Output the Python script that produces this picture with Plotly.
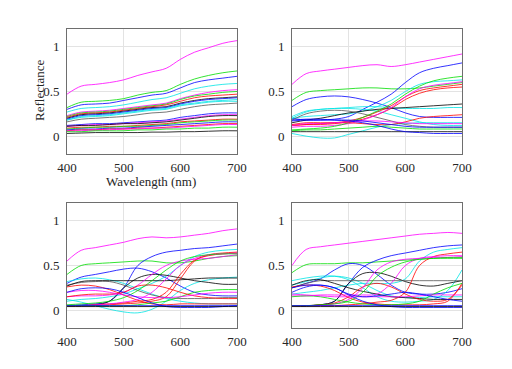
import plotly.graph_objects as go

wavelengths = [400, 425, 450, 475, 500, 525, 550, 575, 600, 625, 650, 675, 700]
x_ticks = [400, 500, 600, 700]
y_ticks = [0, 0.5, 1]
y_tick_labels = ["0", "0.5", "1"]
x_title = "Wavelength (nm)"
y_title = "Reflectance"

C = {"b": "#0000ff", "g": "#00dd00", "r": "#ff0000", "c": "#00e5e5", "m": "#ff00ff", "k": "#000000", "d": "#555555"}

# Panel 1 (top-left)
p1_colors = ["m", "g", "b", "c", "m", "g", "r", "k", "b", "c", "c", "d",
             "b", "m", "k", "r", "g", "b", "r", "m", "g", "k"]
p1_values = [
    [0.47, 0.56, 0.58, 0.60, 0.63, 0.68, 0.72, 0.76, 0.86, 0.94, 0.99, 1.04, 1.07],
    [0.32, 0.38, 0.39, 0.40, 0.42, 0.46, 0.49, 0.51, 0.58, 0.64, 0.68, 0.71, 0.73],
    [0.30, 0.35, 0.36, 0.37, 0.40, 0.43, 0.46, 0.48, 0.54, 0.60, 0.63, 0.65, 0.67],
    [0.27, 0.31, 0.32, 0.33, 0.35, 0.38, 0.41, 0.43, 0.48, 0.53, 0.56, 0.58, 0.59],
    [0.23, 0.27, 0.28, 0.29, 0.31, 0.33, 0.35, 0.37, 0.42, 0.46, 0.49, 0.51, 0.52],
    [0.22, 0.26, 0.27, 0.28, 0.30, 0.32, 0.34, 0.36, 0.41, 0.45, 0.47, 0.49, 0.50],
    [0.21, 0.25, 0.26, 0.27, 0.29, 0.31, 0.33, 0.35, 0.39, 0.43, 0.45, 0.46, 0.47],
    [0.20, 0.24, 0.25, 0.26, 0.28, 0.30, 0.32, 0.33, 0.37, 0.40, 0.42, 0.43, 0.44],
    [0.19, 0.23, 0.24, 0.25, 0.27, 0.29, 0.31, 0.32, 0.36, 0.39, 0.41, 0.42, 0.43],
    [0.18, 0.22, 0.23, 0.24, 0.26, 0.28, 0.30, 0.31, 0.35, 0.37, 0.39, 0.40, 0.41],
    [0.18, 0.21, 0.22, 0.23, 0.25, 0.27, 0.29, 0.30, 0.34, 0.36, 0.38, 0.39, 0.39],
    [0.16, 0.19, 0.20, 0.21, 0.22, 0.24, 0.26, 0.27, 0.30, 0.33, 0.35, 0.36, 0.37],
    [0.12, 0.13, 0.14, 0.14, 0.15, 0.16, 0.17, 0.18, 0.21, 0.23, 0.25, 0.26, 0.26],
    [0.11, 0.12, 0.13, 0.13, 0.14, 0.15, 0.16, 0.17, 0.19, 0.21, 0.23, 0.24, 0.24],
    [0.11, 0.12, 0.12, 0.13, 0.14, 0.14, 0.15, 0.16, 0.18, 0.20, 0.22, 0.23, 0.23],
    [0.09, 0.10, 0.10, 0.11, 0.11, 0.12, 0.13, 0.14, 0.16, 0.17, 0.18, 0.19, 0.19],
    [0.08, 0.09, 0.10, 0.10, 0.11, 0.11, 0.12, 0.13, 0.15, 0.16, 0.17, 0.18, 0.18],
    [0.07, 0.08, 0.08, 0.09, 0.09, 0.10, 0.11, 0.12, 0.13, 0.14, 0.15, 0.16, 0.16],
    [0.06, 0.07, 0.07, 0.08, 0.08, 0.09, 0.09, 0.10, 0.11, 0.12, 0.13, 0.14, 0.14],
    [0.06, 0.06, 0.07, 0.07, 0.08, 0.08, 0.09, 0.09, 0.10, 0.11, 0.12, 0.13, 0.13],
    [0.05, 0.05, 0.06, 0.06, 0.06, 0.07, 0.07, 0.08, 0.08, 0.09, 0.09, 0.10, 0.10],
    [0.03, 0.035, 0.04, 0.04, 0.04, 0.04, 0.045, 0.045, 0.05, 0.05, 0.055, 0.06, 0.06],
]

# Panel 2 (top-right)
p2_colors = ["m", "g", "b", "b", "c", "c", "c", "c", "k", "d", "r", "r",
             "m", "g", "r", "g", "k", "m", "b", "b"]
p2_values = [
    [0.58, 0.70, 0.73, 0.75, 0.77, 0.79, 0.80, 0.78, 0.80, 0.83, 0.86, 0.89, 0.92],
    [0.40, 0.49, 0.51, 0.52, 0.53, 0.54, 0.54, 0.53, 0.53, 0.54, 0.56, 0.58, 0.60],
    [0.33, 0.41, 0.44, 0.45, 0.44, 0.41, 0.37, 0.32, 0.26, 0.22, 0.21, 0.21, 0.21],
    [0.20, 0.18, 0.18, 0.19, 0.22, 0.30, 0.38, 0.47, 0.60, 0.71, 0.76, 0.79, 0.82],
    [0.03, 0.00, -0.02, -0.02, 0.02, 0.06, 0.10, 0.13, 0.14, 0.15, 0.15, 0.15, 0.15],
    [0.22, 0.28, 0.30, 0.31, 0.31, 0.30, 0.28, 0.24, 0.20, 0.16, 0.13, 0.12, 0.12],
    [0.20, 0.22, 0.23, 0.24, 0.25, 0.28, 0.33, 0.40, 0.50, 0.58, 0.61, 0.62, 0.63],
    [0.20, 0.27, 0.30, 0.31, 0.32, 0.33, 0.33, 0.32, 0.31, 0.31, 0.31, 0.32, 0.32],
    [0.15, 0.18, 0.20, 0.23, 0.26, 0.28, 0.30, 0.31, 0.32, 0.33, 0.34, 0.35, 0.36],
    [0.18, 0.25, 0.28, 0.29, 0.28, 0.25, 0.21, 0.17, 0.13, 0.11, 0.10, 0.10, 0.10],
    [0.12, 0.13, 0.14, 0.15, 0.17, 0.21, 0.27, 0.34, 0.44, 0.51, 0.54, 0.56, 0.58],
    [0.12, 0.13, 0.13, 0.14, 0.16, 0.19, 0.24, 0.31, 0.41, 0.48, 0.52, 0.54, 0.55],
    [0.10, 0.11, 0.11, 0.12, 0.14, 0.18, 0.24, 0.32, 0.44, 0.53, 0.57, 0.59, 0.61],
    [0.07, 0.08, 0.09, 0.11, 0.15, 0.21, 0.28, 0.36, 0.47, 0.56, 0.62, 0.65, 0.67],
    [0.13, 0.15, 0.15, 0.15, 0.15, 0.14, 0.13, 0.13, 0.16, 0.20, 0.22, 0.23, 0.24],
    [0.06, 0.07, 0.07, 0.08, 0.09, 0.10, 0.11, 0.10, 0.09, 0.08, 0.08, 0.08, 0.08],
    [0.05, 0.05, 0.05, 0.05, 0.05, 0.05, 0.05, 0.05, 0.05, 0.05, 0.05, 0.05, 0.05],
    [0.12, 0.14, 0.14, 0.15, 0.16, 0.17, 0.17, 0.16, 0.15, 0.14, 0.14, 0.14, 0.14],
    [0.18, 0.19, 0.19, 0.18, 0.17, 0.15, 0.12, 0.08, 0.05, 0.04, 0.03, 0.03, 0.03],
    [0.17, 0.18, 0.18, 0.18, 0.18, 0.17, 0.15, 0.13, 0.11, 0.10, 0.10, 0.10, 0.10],
]

# Panel 3 (bottom-left)
p3_colors = ["m", "g", "b", "b", "c", "c", "c", "k", "d", "k", "r", "r",
             "r", "m", "m", "g", "g", "r", "m", "b", "b", "k"]
p3_values = [
    [0.55, 0.67, 0.70, 0.73, 0.76, 0.80, 0.82, 0.81, 0.82, 0.84, 0.86, 0.89, 0.91],
    [0.40, 0.50, 0.52, 0.53, 0.54, 0.55, 0.55, 0.53, 0.53, 0.55, 0.58, 0.60, 0.61],
    [0.30, 0.37, 0.40, 0.43, 0.46, 0.47, 0.43, 0.36, 0.27, 0.20, 0.17, 0.16, 0.16],
    [0.05, 0.06, 0.07, 0.10, 0.25, 0.50, 0.60, 0.65, 0.67, 0.69, 0.70, 0.72, 0.74],
    [0.32, 0.35, 0.36, 0.34, 0.30, 0.24, 0.18, 0.13, 0.10, 0.08, 0.07, 0.07, 0.07],
    [0.12, 0.09, 0.05, 0.01, -0.02, -0.03, 0.01, 0.10, 0.22, 0.30, 0.34, 0.36, 0.37],
    [0.10, 0.12, 0.13, 0.15, 0.18, 0.24, 0.30, 0.38, 0.50, 0.60, 0.65, 0.67, 0.68],
    [0.05, 0.05, 0.06, 0.10, 0.25, 0.36, 0.40, 0.39, 0.36, 0.33, 0.31, 0.29, 0.29],
    [0.28, 0.31, 0.32, 0.32, 0.28, 0.22, 0.17, 0.14, 0.13, 0.13, 0.13, 0.14, 0.14],
    [0.27, 0.32, 0.33, 0.33, 0.33, 0.33, 0.33, 0.33, 0.34, 0.35, 0.36, 0.36, 0.36],
    [0.26, 0.28, 0.27, 0.23, 0.17, 0.11, 0.07, 0.06, 0.07, 0.07, 0.07, 0.07, 0.07],
    [0.05, 0.05, 0.05, 0.06, 0.07, 0.08, 0.10, 0.15, 0.35, 0.55, 0.62, 0.64, 0.65],
    [0.05, 0.05, 0.06, 0.07, 0.08, 0.10, 0.12, 0.20, 0.40, 0.56, 0.61, 0.63, 0.64],
    [0.05, 0.05, 0.06, 0.07, 0.09, 0.12, 0.20, 0.35, 0.50, 0.58, 0.62, 0.63, 0.64],
    [0.15, 0.16, 0.16, 0.17, 0.20, 0.28, 0.40, 0.50, 0.55, 0.57, 0.58, 0.60, 0.62],
    [0.06, 0.07, 0.08, 0.10, 0.14, 0.22, 0.33, 0.45, 0.55, 0.60, 0.62, 0.63, 0.63],
    [0.05, 0.05, 0.05, 0.05, 0.05, 0.06, 0.08, 0.10, 0.15, 0.20, 0.22, 0.23, 0.23],
    [0.15, 0.17, 0.18, 0.18, 0.20, 0.27, 0.28, 0.25, 0.20, 0.16, 0.14, 0.13, 0.13],
    [0.20, 0.22, 0.22, 0.20, 0.17, 0.15, 0.14, 0.14, 0.15, 0.17, 0.19, 0.20, 0.20],
    [0.20, 0.24, 0.25, 0.24, 0.20, 0.14, 0.08, 0.04, 0.03, 0.03, 0.03, 0.04, 0.05],
    [0.05, 0.05, 0.05, 0.05, 0.05, 0.05, 0.05, 0.05, 0.05, 0.05, 0.05, 0.05, 0.05],
    [0.04, 0.04, 0.04, 0.04, 0.04, 0.04, 0.04, 0.04, 0.04, 0.04, 0.04, 0.04, 0.04],
]

# Panel 4 (bottom-right)
p4_colors = ["m", "g", "b", "b", "c", "c", "c", "k", "d", "k", "r", "r",
             "r", "m", "m", "g", "g", "m", "b", "b", "k", "b"]
p4_values = [
    [0.50, 0.68, 0.71, 0.73, 0.75, 0.77, 0.79, 0.81, 0.83, 0.85, 0.86, 0.87, 0.86],
    [0.42, 0.51, 0.52, 0.52, 0.53, 0.53, 0.54, 0.55, 0.56, 0.57, 0.58, 0.58, 0.58],
    [0.05, 0.05, 0.06, 0.10, 0.30, 0.48, 0.56, 0.61, 0.64, 0.67, 0.70, 0.72, 0.73],
    [0.25, 0.30, 0.35, 0.45, 0.52, 0.50, 0.40, 0.28, 0.20, 0.18, 0.18, 0.20, 0.24],
    [0.33, 0.36, 0.38, 0.38, 0.34, 0.25, 0.15, 0.10, 0.09, 0.10, 0.12, 0.22, 0.45],
    [0.18, 0.20, 0.22, 0.25, 0.28, 0.30, 0.30, 0.30, 0.35, 0.55, 0.65, 0.68, 0.70],
    [0.28, 0.32, 0.36, 0.38, 0.36, 0.30, 0.22, 0.16, 0.14, 0.14, 0.15, 0.15, 0.15],
    [0.05, 0.05, 0.06, 0.10, 0.30, 0.41, 0.42, 0.38, 0.32, 0.28, 0.27, 0.30, 0.33],
    [0.25, 0.30, 0.33, 0.33, 0.33, 0.33, 0.33, 0.33, 0.33, 0.33, 0.33, 0.33, 0.33],
    [0.28, 0.33, 0.34, 0.30, 0.25, 0.21, 0.18, 0.15, 0.14, 0.13, 0.12, 0.12, 0.12],
    [0.26, 0.28, 0.27, 0.22, 0.14, 0.09, 0.07, 0.06, 0.06, 0.06, 0.07, 0.10, 0.30],
    [0.05, 0.05, 0.05, 0.05, 0.06, 0.07, 0.09, 0.11, 0.20, 0.50, 0.60, 0.63, 0.65],
    [0.05, 0.05, 0.06, 0.08, 0.15, 0.26, 0.30, 0.26, 0.18, 0.12, 0.10, 0.12, 0.28],
    [0.05, 0.05, 0.05, 0.07, 0.12, 0.25, 0.45, 0.54, 0.57, 0.58, 0.59, 0.59, 0.60],
    [0.16, 0.16, 0.17, 0.17, 0.17, 0.17, 0.18, 0.30, 0.50, 0.58, 0.60, 0.61, 0.61],
    [0.05, 0.05, 0.06, 0.07, 0.10, 0.20, 0.38, 0.48, 0.54, 0.57, 0.58, 0.59, 0.59],
    [0.15, 0.16, 0.15, 0.12, 0.09, 0.07, 0.06, 0.06, 0.07, 0.10, 0.18, 0.25, 0.30],
    [0.18, 0.17, 0.16, 0.15, 0.15, 0.15, 0.15, 0.15, 0.15, 0.16, 0.17, 0.17, 0.17],
    [0.20, 0.26, 0.28, 0.25, 0.17, 0.10, 0.06, 0.04, 0.03, 0.03, 0.03, 0.03, 0.03],
    [0.05, 0.05, 0.05, 0.05, 0.05, 0.05, 0.05, 0.05, 0.05, 0.05, 0.05, 0.05, 0.05],
    [0.04, 0.04, 0.04, 0.04, 0.04, 0.04, 0.04, 0.04, 0.04, 0.04, 0.04, 0.04, 0.04],
    [0.25, 0.28, 0.28, 0.25, 0.18, 0.15, 0.16, 0.18, 0.20, 0.18, 0.15, 0.12, 0.10],
]

panels = [(p1_colors, p1_values), (p2_colors, p2_values),
          (p3_colors, p3_values), (p4_colors, p4_values)]

W, H = 512, 369
OFF = 8  # page body margin
# axes boxes in page pixels: (left, right, top, bottom)
boxes = [(67, 237, 29, 154), (292, 462, 29, 154),
         (67, 237, 203, 328), (292, 462, 203, 328)]

fig = go.Figure()
FONT = "Liberation Serif, DejaVu Serif, serif"
TXT = "#262626"
FS = 13
layout = dict(template="none", width=W, height=H, margin=dict(l=0, r=0, t=0, b=0),
              paper_bgcolor="white", plot_bgcolor="white", showlegend=False,
              font=dict(family=FONT, size=FS, color=TXT))

for i, ((cols, vals), (l, r, t, b)) in enumerate(zip(panels, boxes)):
    n = i + 1
    xa = "x" if n == 1 else f"x{n}"
    ya = "y" if n == 1 else f"y{n}"
    for c, v in zip(cols, vals):
        fig.add_trace(go.Scatter(x=wavelengths, y=v, mode="lines",
                                 line=dict(color=C[c], width=0.8, shape="spline", smoothing=1.0),
                                 xaxis=xa, yaxis=ya, hoverinfo="skip"))
    axcommon = dict(showline=True, mirror=True, linecolor="#6e6e6e", linewidth=1,
                    showgrid=True, gridcolor="#e3e3e3", gridwidth=1, zeroline=False,
                    automargin=False, ticks="", tickfont=dict(family=FONT, size=FS, color=TXT))
    layout["xaxis" if n == 1 else f"xaxis{n}"] = dict(
        domain=[(l - OFF) / W, (r - OFF) / W], range=[400, 700], tickvals=x_ticks,
        anchor=ya, ticklabelstandoff=1, **axcommon)
    layout["yaxis" if n == 1 else f"yaxis{n}"] = dict(
        domain=[1 - (b - OFF) / H, 1 - (t - OFF) / H], range=[-0.2, 1.2], tickvals=y_ticks,
        ticktext=y_tick_labels, anchor=xa, ticklabelstandoff=4, **axcommon)

fig.update_layout(**layout)
fig.add_annotation(text=x_title, xref="paper", yref="paper",
                   x=(151 - OFF) / W, y=1 - (181 - OFF) / H, xanchor="center", yanchor="middle",
                   showarrow=False, font=dict(family=FONT, size=FS, color=TXT))
fig.add_annotation(text=y_title, xref="paper", yref="paper", textangle=-90,
                   x=(39 - OFF) / W, y=1 - (90 - OFF) / H, xanchor="center", yanchor="middle",
                   showarrow=False, font=dict(family=FONT, size=FS, color=TXT))
fig.write_html("out.html")
